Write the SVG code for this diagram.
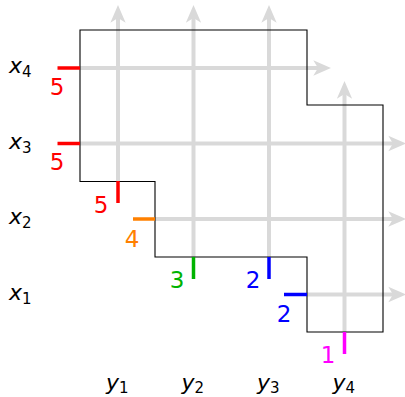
<svg xmlns="http://www.w3.org/2000/svg" width="405" height="397" viewBox="0 0 405 397">
<style>
.g{stroke:#d9d9d9;stroke-width:4;fill:none}
.o{stroke:#000;stroke-width:1.1;fill:none}
.t{stroke-width:3.5;fill:none}
.n{font-family:"DejaVu Sans","Liberation Sans",sans-serif;font-size:23px;text-anchor:middle}
.v{font-family:"DejaVu Sans","Liberation Sans",sans-serif;font-size:22px;font-style:italic;fill:#000}
.s{font-style:normal;font-size:15px}
</style>
<defs>
<marker id="ah" markerUnits="userSpaceOnUse" markerWidth="20" markerHeight="20" viewBox="-16 -8 17 16" refX="-11" refY="0" orient="auto">
<path d="M0,0 L-15,-6.5 L-11,0 L-15,6.5 Z" fill="#d9d9d9"/>
</marker>
</defs>
<g id="connectors">
<line class="g" x1="118" y1="181" x2="118" y2="18" marker-end="url(#ah)"/>
<line class="g" x1="193.5" y1="257" x2="193.5" y2="18" marker-end="url(#ah)"/>
<line class="g" x1="269" y1="257" x2="269" y2="18" marker-end="url(#ah)"/>
<line class="g" x1="344.5" y1="332" x2="344.5" y2="94" marker-end="url(#ah)"/>
<line class="g" x1="80" y1="68" x2="318" y2="68" marker-end="url(#ah)"/>
<line class="g" x1="80" y1="143.5" x2="393" y2="143.5" marker-end="url(#ah)"/>
<line class="g" x1="155" y1="219" x2="393" y2="219" marker-end="url(#ah)"/>
<line class="g" x1="307" y1="294.5" x2="393" y2="294.5" marker-end="url(#ah)"/>
</g>
<g id="outline">
<path class="o" d="M80,30 H307 V105 H383 V332 H307 V257 H155 V181.5 H80 Z"/>
</g>
<g id="ticks">
<line class="t" stroke="#ff0000" x1="57.5" y1="68" x2="80" y2="68"/>
<line class="t" stroke="#ff0000" x1="57.5" y1="143.5" x2="80" y2="143.5"/>
<line class="t" stroke="#ff0000" x1="118" y1="181" x2="118" y2="203"/>
<line class="t" stroke="#ff8000" x1="133" y1="219" x2="155" y2="219"/>
<line class="t" stroke="#00b300" x1="193.5" y1="257" x2="193.5" y2="279"/>
<line class="t" stroke="#0000ff" x1="269" y1="257" x2="269" y2="279"/>
<line class="t" stroke="#0000ff" x1="284" y1="294.5" x2="307" y2="294.5"/>
<line class="t" stroke="#ff00ff" x1="344.5" y1="332" x2="344.5" y2="354"/>
</g>
<g id="weights">
<text class="n" fill="#ff0000" x="57" y="95">5</text>
<text class="n" fill="#ff0000" x="57" y="170">5</text>
<text class="n" fill="#ff0000" x="101" y="213">5</text>
<text class="n" fill="#ff8000" x="132" y="247">4</text>
<text class="n" fill="#00b300" x="177" y="288">3</text>
<text class="n" fill="#0000ff" x="253" y="288">2</text>
<text class="n" fill="#0000ff" x="284" y="322">2</text>
<text class="n" fill="#ff00ff" x="328" y="363">1</text>
</g>
<g id="row-labels">
<text class="v" x="9" y="73">x<tspan class="s" dy="4">4</tspan></text>
<text class="v" x="9" y="148.5">x<tspan class="s" dy="4">3</tspan></text>
<text class="v" x="9" y="224">x<tspan class="s" dy="4">2</tspan></text>
<text class="v" x="9" y="299.5">x<tspan class="s" dy="4">1</tspan></text>
</g>
<g id="col-labels">
<text class="v" x="106" y="390">y<tspan class="s" dy="3">1</tspan></text>
<text class="v" x="181.5" y="390">y<tspan class="s" dy="3">2</tspan></text>
<text class="v" x="257" y="390">y<tspan class="s" dy="3">3</tspan></text>
<text class="v" x="332.5" y="390">y<tspan class="s" dy="3">4</tspan></text>
</g>
</svg>
